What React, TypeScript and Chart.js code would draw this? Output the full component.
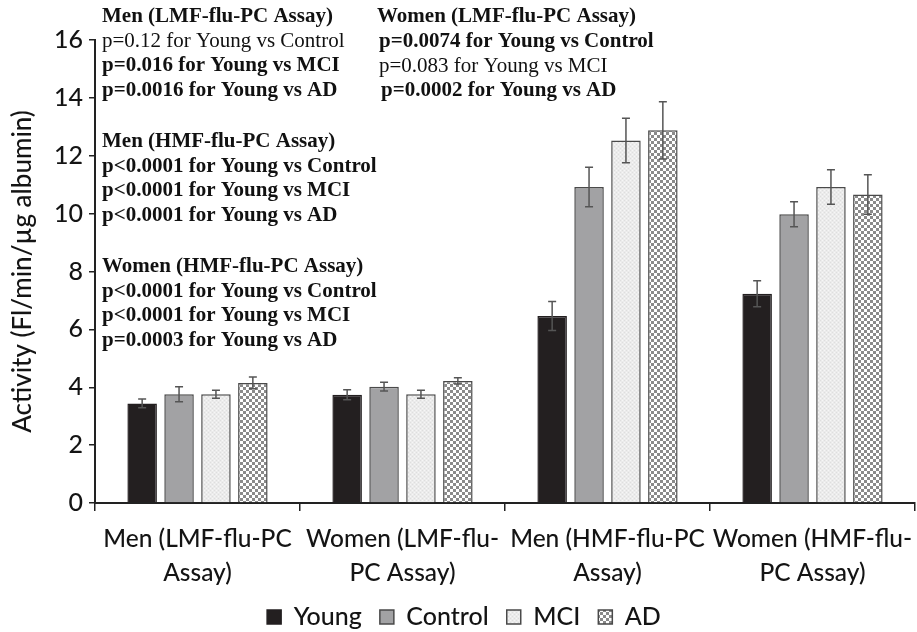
import React, { useEffect, useRef } from "react";
import { Chart, registerables } from "chart.js";

Chart.register(...registerables);

// ---- data ----
const categories: string[][] = [
  ["Men (LMF-flu-PC", "Assay)"],
  ["Women (LMF-flu-", "PC Assay)"],
  ["Men (HMF-flu-PC", "Assay)"],
  ["Women (HMF-flu-", "PC Assay)"],
];
const seriesNames = ["Young", "Control", "MCI", "AD"];
const youngValues = [3.44, 3.74, 6.46, 7.23];
const youngErrors = [0.15, 0.17, 0.5, 0.45];
const controlValues = [3.76, 4.02, 10.92, 9.98];
const controlErrors = [0.26, 0.15, 0.68, 0.43];
const mciValues = [3.76, 3.76, 12.53, 10.92];
const mciErrors = [0.14, 0.14, 0.77, 0.6];
const adValues = [4.15, 4.22, 12.88, 10.66];
const adErrors = [0.2, 0.11, 0.99, 0.68];
const yMin = 0;
const yMax = 16;
const yStep = 2;
const yTitle = "Activity (Fl/min/µg albumin)";

const menLmfNotes = [
  "Men (LMF-flu-PC Assay)",
  "p=0.12 for Young vs Control",
  "p=0.016 for Young vs MCI",
  "p=0.0016 for Young vs AD",
];
const womenLmfNotes = [
  "Women (LMF-flu-PC Assay)",
  "p=0.0074 for Young vs Control",
  "p=0.083 for Young vs MCI",
  "p=0.0002 for Young vs AD",
];
const menHmfNotes = [
  "Men (HMF-flu-PC Assay)",
  "p<0.0001 for Young vs Control",
  "p<0.0001 for Young vs MCI",
  "p<0.0001 for Young vs AD",
];
const womenHmfNotes = [
  "Women (HMF-flu-PC Assay)",
  "p<0.0001 for Young vs Control",
  "p<0.0001 for Young vs MCI",
  "p=0.0003 for Young vs AD",
];

// ---- styles ----
const SANS = "Lato, 'Open Sans', sans-serif";
const SERIF = "'Liberation Serif', 'Times New Roman', serif";
const TEXT = "#141414";

function makeChecker(): CanvasPattern | string {
  const c = document.createElement("canvas");
  c.width = 6;
  c.height = 6;
  const g = c.getContext("2d");
  if (!g) return "#aaa";
  g.fillStyle = "#ffffff";
  g.fillRect(0, 0, 6, 6);
  g.fillStyle = "#8a8a8a";
  g.fillRect(0, 0, 3, 3);
  g.fillRect(3, 3, 3, 3);
  return g.createPattern(c, "repeat") || "#aaa";
}

function makeStipple(): CanvasPattern | string {
  const c = document.createElement("canvas");
  c.width = 4;
  c.height = 4;
  const g = c.getContext("2d");
  if (!g) return "#eaeaea";
  g.fillStyle = "#ebebeb";
  g.fillRect(0, 0, 4, 4);
  g.fillStyle = "#dedede";
  g.fillRect(0, 0, 1, 1);
  g.fillRect(2, 2, 1, 1);
  g.fillStyle = "#f6f6f6";
  g.fillRect(2, 0, 1, 1);
  g.fillRect(0, 2, 1, 1);
  return g.createPattern(c, "repeat") || "#eaeaea";
}

const errorBarPlugin = {
  id: "errorBars",
  afterDatasetsDraw(chart: any) {
    const { ctx } = chart;
    const yScale = chart.scales.y;
    const errs = [youngErrors, controlErrors, mciErrors, adErrors];
    ctx.save();
    ctx.strokeStyle = "#555555";
    ctx.lineWidth = 1.5;
    chart.data.datasets.forEach((ds: any, di: number) => {
      const meta = chart.getDatasetMeta(di);
      meta.data.forEach((bar: any, i: number) => {
        const v = ds.data[i];
        const e = errs[di][i];
        const top = yScale.getPixelForValue(v + e);
        const bot = yScale.getPixelForValue(v - e);
        const x = bar.x;
        ctx.beginPath();
        ctx.moveTo(x, top);
        ctx.lineTo(x, bot);
        ctx.moveTo(x - 4, top);
        ctx.lineTo(x + 4, top);
        ctx.moveTo(x - 4, bot);
        ctx.lineTo(x + 4, bot);
        ctx.stroke();
      });
    });
    ctx.restore();
  },
};

const notesPlugin = {
  id: "notes",
  afterDraw(chart: any) {
    const { ctx } = chart;
    const blocks = [
      { lines: menLmfNotes, bold: [true, false, true, true], x: [102, 102, 102, 102], y: 17 },
      { lines: womenLmfNotes, bold: [true, true, false, true], x: [377, 379, 379, 381], y: 17 },
      { lines: menHmfNotes, bold: [true, true, true, true], x: [102, 102, 102, 102], y: 142 },
      { lines: womenHmfNotes, bold: [true, true, true, true], x: [102, 102, 102, 102], y: 267 },
    ];
    ctx.save();
    ctx.fillStyle = "#111111";
    ctx.textAlign = "left";
    ctx.textBaseline = "middle";
    blocks.forEach((b) => {
      b.lines.forEach((t, i) => {
        ctx.font = `${b.bold[i] ? "bold " : ""}21px ${SERIF}`;
        ctx.fillText(t, b.x[i], b.y + i * 24.5);
      });
    });
    ctx.restore();
  },
};

export default function App() {
  const ref = useRef<HTMLCanvasElement | null>(null);

  useEffect(() => {
    document.body.style.margin = "0";
    const canvas = ref.current;
    if (!canvas) return;
    const checker = makeChecker();
    const stipple = makeStipple();
    const border = "#4a4a4a";
    const chart = new Chart(canvas, {
      type: "bar",
      data: {
        labels: categories as any,
        datasets: [
          { label: seriesNames[0], data: youngValues, backgroundColor: "#231f20", borderColor: "#231f20", borderWidth: 1.5 },
          { label: seriesNames[1], data: controlValues, backgroundColor: "#a2a2a4", borderColor: border, borderWidth: 1.5 },
          { label: seriesNames[2], data: mciValues, backgroundColor: stipple as any, borderColor: border, borderWidth: 1.5 },
          { label: seriesNames[3], data: adValues, backgroundColor: checker as any, borderColor: border, borderWidth: 1.5 },
        ],
      },
      options: {
        responsive: false,
        animation: false,
        events: [],
        datasets: { bar: { categoryPercentage: 0.72, barPercentage: 0.8 } },
        layout: { padding: { top: 40, right: 2, left: 13, bottom: -7.5 } },
        plugins: {
          legend: {
            position: "bottom",
            labels: {
              boxWidth: 14,
              boxHeight: 14,
              padding: 18,
              color: TEXT,
              font: { family: SANS, size: 25, weight: "500" },
            },
          },
          tooltip: { enabled: false },
        },
        scales: {
          x: {
            grid: { display: true, drawOnChartArea: false, drawTicks: true, tickLength: 8, color: "#222", lineWidth: 1.5, offset: true },
            border: { display: true, color: "#222", width: 2 },
            ticks: { color: TEXT, font: { family: SANS, size: 24.5, weight: "500", lineHeight: 1.35 }, padding: 12, maxRotation: 0, autoSkip: false },
            afterFit: (s: any) => {
              s.height = 83.5;
              s.paddingLeft = 0;
              s.paddingRight = 0;
            },
          },
          y: {
            min: yMin,
            max: yMax,
            ticks: { stepSize: yStep, color: TEXT, font: { family: SANS, size: 25, weight: "500" }, padding: 6 },
            grid: { display: true, drawOnChartArea: false, drawTicks: true, tickLength: 6, color: "#222", lineWidth: 1.5 },
            border: { display: true, color: "#222", width: 2 },
            title: { display: true, text: yTitle, color: TEXT, font: { family: SANS, size: 26, weight: "500" }, padding: { top: -6, bottom: 0 } },
            afterFit: (s: any) => {
              s.width = 82;
            },
          },
        },
      },
      plugins: [errorBarPlugin, notesPlugin],
    });
    return () => chart.destroy();
  }, []);

  return (
    <div style={{ width: 917, height: 632 }}>
      <canvas ref={ref} width={917} height={632} style={{ display: "block", width: 917, height: 632 }} />
    </div>
  );
}
